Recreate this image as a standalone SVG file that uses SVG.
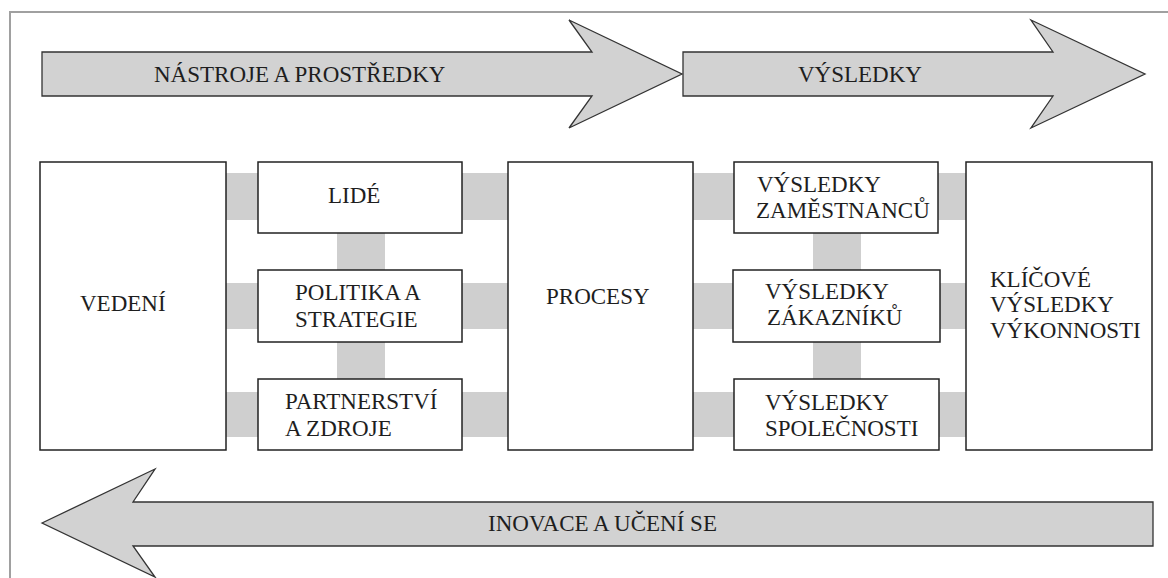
<svg xmlns="http://www.w3.org/2000/svg" width="1168" height="578" viewBox="0 0 1168 578">
<style>
.box{fill:#fff;stroke:#222;stroke-width:1.5}
.arrow{fill:#d2d2d2;stroke:#333;stroke-width:1.3;stroke-linejoin:miter}
.conn{fill:#cfcfcf}
.t{font-family:"Liberation Serif","Times New Roman",serif;font-size:23px;fill:#1e1e1e}
.frame{fill:none;stroke:#a0a0a0;stroke-width:2}
</style>
<rect width="1168" height="578" fill="#fff"/>
<path class="frame" d="M10,578 V12 H1168"/>

<g id="connectors">
<rect class="conn" x="226" y="173" width="32" height="47"/>
<rect class="conn" x="226" y="283" width="32" height="46"/>
<rect class="conn" x="226" y="392" width="32" height="45"/>
<rect class="conn" x="462" y="173" width="46" height="47"/>
<rect class="conn" x="462" y="283" width="46" height="46"/>
<rect class="conn" x="462" y="392" width="46" height="45"/>
<rect class="conn" x="693" y="173" width="41" height="47"/>
<rect class="conn" x="693" y="283" width="41" height="46"/>
<rect class="conn" x="693" y="392" width="41" height="45"/>
<rect class="conn" x="938" y="173" width="28" height="47"/>
<rect class="conn" x="938" y="283" width="28" height="46"/>
<rect class="conn" x="938" y="392" width="28" height="45"/>
<rect class="conn" x="337" y="233" width="48" height="37"/>
<rect class="conn" x="337" y="342" width="48" height="37"/>
<rect class="conn" x="813" y="233" width="48" height="37"/>
<rect class="conn" x="813" y="342" width="48" height="37"/>
</g>

<g id="arrow-nastroje">
<polygon class="arrow" points="42,52 592,52 569,20 682,74 569,128 592,96 42,96"/>
<text class="t" x="154" y="82">NÁSTROJE A PROSTŘEDKY</text>
</g>
<g id="arrow-vysledky">
<polygon class="arrow" points="683,52 1053,52 1031,20 1145,74 1031,128 1053,96 683,96"/>
<text class="t" x="798" y="82">VÝSLEDKY</text>
</g>
<g id="arrow-inovace">
<polygon class="arrow" points="42,523 155,469 133,502 1153,502 1153,546 133,546 155,577"/>
<text class="t" x="488" y="531">INOVACE A UČENÍ SE</text>
</g>

<g id="vedeni">
<rect class="box" x="40" y="162" width="186" height="288"/>
<text class="t" x="80" y="311">VEDENÍ</text>
</g>
<g id="lide">
<rect class="box" x="258" y="162" width="204" height="71"/>
<text class="t" x="328" y="203">LIDÉ</text>
</g>
<g id="politika">
<rect class="box" x="258" y="270" width="204" height="72"/>
<text class="t" x="295" y="300">POLITIKA A</text>
<text class="t" x="295" y="327">STRATEGIE</text>
</g>
<g id="partnerstvi">
<rect class="box" x="258" y="379" width="204" height="71"/>
<text class="t" x="285" y="409">PARTNERSTVÍ</text>
<text class="t" x="285" y="436">A ZDROJE</text>
</g>
<g id="procesy">
<rect class="box" x="508" y="162" width="185" height="288"/>
<text class="t" x="546" y="304">PROCESY</text>
</g>
<g id="vysledky-zamestnancu">
<rect class="box" x="734" y="162" width="204" height="71"/>
<text class="t" x="757" y="192">VÝSLEDKY</text>
<text class="t" x="756" y="218">ZAMĚSTNANCŮ</text>
</g>
<g id="vysledky-zakazniku">
<rect class="box" x="733" y="270" width="207" height="72"/>
<text class="t" x="765" y="299">VÝSLEDKY</text>
<text class="t" x="767" y="325">ZÁKAZNÍKŮ</text>
</g>
<g id="vysledky-spolecnosti">
<rect class="box" x="734" y="379" width="205" height="71"/>
<text class="t" x="765" y="410">VÝSLEDKY</text>
<text class="t" x="765" y="436">SPOLEČNOSTI</text>
</g>
<g id="klicove">
<rect class="box" x="966" y="162" width="186" height="288"/>
<text class="t" x="990" y="287">KLÍČOVÉ</text>
<text class="t" x="990" y="312">VÝSLEDKY</text>
<text class="t" x="990" y="338">VÝKONNOSTI</text>
</g>
</svg>
